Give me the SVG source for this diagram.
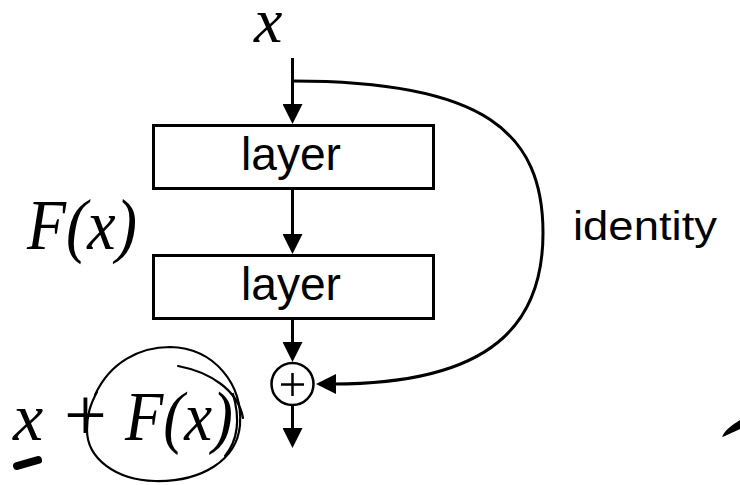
<svg xmlns="http://www.w3.org/2000/svg" width="740" height="485" viewBox="0 0 740 485">
  <style>
    .box { fill: #fff; stroke: #000; stroke-width: 3; }
    .lbl { font-family: "Liberation Sans", Arial, sans-serif; font-size: 46px; fill: #000; }
    .math { font-family: "Liberation Serif", "Times New Roman", serif; font-style: italic; fill: #000; }
    .op { font-family: "Liberation Serif", "Times New Roman", serif; fill: #000; }
    .conn { fill: none; stroke: #000; stroke-width: 3; marker-end: url(#arrow); }
    .ink { fill: none; stroke: #000; stroke-width: 2.2; stroke-linecap: round; }
  </style>
  <defs>
    <marker id="arrow" markerUnits="userSpaceOnUse" viewBox="0 0 20 20" markerWidth="20" markerHeight="20" refX="10" refY="10" orient="auto">
      <path d="M0,0 L20,10 L0,20 Z" fill="#000"/>
    </marker>
  </defs>
  <rect width="740" height="485" fill="#fff"/>

  <g id="connectors">
    <path class="conn" d="M292.5 58 L292.5 114"/>
    <path class="conn" d="M292.5 190 L292.5 244"/>
    <path class="conn" d="M292.5 320 L292.5 352"/>
    <path class="conn" d="M292.5 405 L292.5 438"/>
    <path class="conn" d="M293 81 C485 81 543 133 543 233 C543 323 493 384 333 384 L326 384"/>
  </g>

  <g id="input-x">
    <text class="math" x="254" y="42" font-family="'Liberation Serif', serif" font-style="italic" font-size="64">x</text>
  </g>

  <g id="layer1">
    <rect class="box" x="153.5" y="125.5" width="280" height="63"/>
    <text class="lbl" x="241" y="170" textLength="100" lengthAdjust="spacingAndGlyphs">layer</text>
  </g>

  <g id="layer2">
    <rect class="box" x="153.5" y="255.5" width="280" height="63"/>
    <text class="lbl" x="241" y="300" textLength="100" lengthAdjust="spacingAndGlyphs">layer</text>
  </g>

  <g id="Fx-label">
    <text class="math" x="27" y="249" font-family="'Liberation Serif', serif" font-style="italic" font-size="72" textLength="110" lengthAdjust="spacingAndGlyphs">F(x)</text>
  </g>

  <g id="identity-label">
    <text class="lbl" x="573" y="240" style="font-size:40px" textLength="144" lengthAdjust="spacingAndGlyphs">identity</text>
  </g>

  <g id="sum">
    <circle cx="292.5" cy="384" r="21" fill="#fff" stroke="#000" stroke-width="2.5"/>
    <path d="M281 384.5 H304 M292.5 373 V396" stroke="#000" stroke-width="2.5" fill="none"/>
  </g>

  <g id="output">
    <text class="math" x="13" y="440" font-family="'Liberation Serif', serif" font-style="italic" font-size="68">x</text>
    <text class="op" x="64" y="440" font-family="'Liberation Serif', serif" font-size="76">+</text>
    <text class="math" x="125" y="440" font-family="'Liberation Serif', serif" font-style="italic" font-size="69" textLength="108" lengthAdjust="spacingAndGlyphs">F(x)</text>
  </g>

  <g id="annotations">
    <path class="ink" d="M95 395 C110 362 140 347 170 347 C215 348 243 385 240 425 C237 460 202 482 155 481 C115 480 87 458 87 430 C87 415 90 405 97 392"/>
    <path class="ink" d="M178 366 C210 372 238 390 243 418"/>
    <path class="ink" d="M233 394 C240 418 238 440 225 456"/>
    <path d="M17 466 L38 460" stroke="#000" stroke-width="8" stroke-linecap="round"/>
    <path d="M722 437 C725 430 732 425 740 420 L740 429 C733 432 726 436 722 437 Z" fill="#000"/>
  </g>
</svg>
